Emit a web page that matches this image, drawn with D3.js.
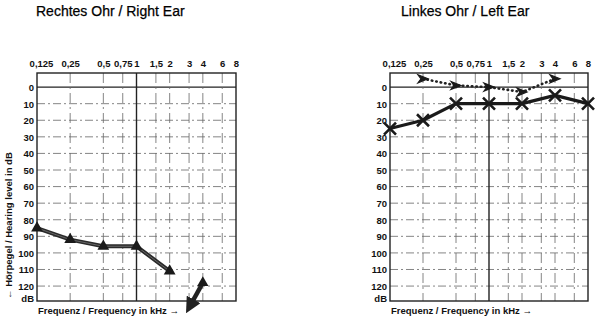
<!DOCTYPE html>
<html>
<head>
<meta charset="utf-8">
<script src="https://cdn.jsdelivr.net/npm/d3@7"></script>
<style>
  body { margin: 0; background: #fff; }
  text { font-family: "Liberation Sans Narrow", "Liberation Sans", Arial, sans-serif; fill: #111; }
  .title { font-family: "Liberation Sans", Arial, sans-serif; font-size: 14px; fill: #000; stroke: #000; stroke-width: 0.25; }
  .tick text { font-size: 9.5px; font-weight: bold; }
  .lbl { font-size: 9.5px; font-weight: bold; }
</style>
</head>
<body>
<script>
//data
var freqs = [0.125, 0.25, 0.5, 0.75, 1, 1.5, 2, 3, 4, 6, 8];
var levels = [0, 10, 20, 30, 40, 50, 60, 70, 80, 90, 100, 110, 120];
var rightAir = [[0.125, 85], [0.25, 92], [0.5, 96], [1, 96], [2, 111]];
var rightNoResp = [[4, 118], [3, 133]];
var leftAir = [[0.125, 25], [0.25, 20], [0.5, 10], [1, 10], [2, 10], [4, 5], [8, 10]];
var leftBone = [[0.25, -5], [0.5, -1], [1, 0], [2, 3], [4, -5]];

var W = 600, H = 328;
var top0 = 73, bottom0 = 301;

var svg = d3.select("body").append("svg")
    .attr("width", W)
    .attr("height", H);

var defs = svg.append("defs");
defs.append("marker")
    .attr("id", "arr")
    .attr("viewBox", "0 -5 10 10")
    .attr("refX", 6)
    .attr("refY", 0)
    .attr("markerWidth", 3.5)
    .attr("markerHeight", 3.5)
    .attr("markerUnits", "strokeWidth")
    .attr("orient", "auto")
    .append("path")
    .attr("d", "M0,-5L10,0L0,5Z")
    .attr("fill", "#222");

var y = d3.scaleLinear()
    .domain([-8.5, 129])
    .range([top0, bottom0]);

function fmt(d) { return String(d).replace(".", ","); }

function panel(x0, x1, title, titleX, showYTitle) {
    var x = d3.scaleLog().base(2)
        .domain([0.125, 8])
        .range([x0, x1]);
    var g = svg.append("g");

    g.append("text")
        .attr("class", "title")
        .attr("x", titleX)
        .attr("y", 16)
        .text(title);

    //grid
    g.append("g").selectAll("line")
        .data(levels)
        .enter().append("line")
        .attr("x1", x0).attr("x2", x1)
        .attr("y1", function (d) { return y(d); })
        .attr("y2", function (d) { return y(d); })
        .attr("stroke", function (d) { return d === 0 ? "#222" : "#666"; })
        .attr("stroke-width", function (d) { return d === 0 ? 1.4 : 0.8; })
        .attr("stroke-dasharray", function (d) { return d === 0 ? null : "8,3,2,3"; });

    g.append("g").selectAll("line")
        .data(freqs.slice(1, -1))
        .enter().append("line")
        .attr("x1", function (d) { return x(d); })
        .attr("x2", function (d) { return x(d); })
        .attr("y1", top0).attr("y2", bottom0)
        .attr("stroke", function (d) { return d === 1 ? "#222" : "#666"; })
        .attr("stroke-width", function (d) { return d === 1 ? 1.4 : 0.8; })
        .attr("stroke-dasharray", function (d) { return d === 1 ? null : "10,4,2,4"; });

    g.append("rect")
        .attr("x", x0).attr("y", top0)
        .attr("width", x1 - x0).attr("height", bottom0 - top0)
        .attr("fill", "none")
        .attr("stroke", "#222")
        .attr("stroke-width", 1.4);

    //axes
    var ax = g.append("g")
        .attr("transform", "translate(0," + (top0 - 6) + ")")
        .call(d3.axisTop(x).tickValues(freqs).tickFormat(fmt).tickSize(0).tickPadding(0));
    ax.select(".domain").remove();
    ax.selectAll(".tick text").filter(function (d) { return d === 0.125; }).attr("dx", 4);

    var ay = g.append("g")
        .attr("transform", "translate(" + (x0 - 3) + ",0)")
        .call(d3.axisLeft(y).tickValues(levels).tickSize(0).tickPadding(0));
    ay.select(".domain").remove();
    ay.selectAll(".tick text").attr("dy", "0.35em");

    g.append("text")
        .attr("class", "lbl")
        .attr("x", x0 - 3).attr("y", bottom0 + 1)
        .attr("text-anchor", "end")
        .text("dB");

    g.append("text")
        .attr("class", "lbl")
        .attr("x", x0 + 1).attr("y", bottom0 + 13)
        .text("Frequenz / Frequency in kHz \u2192");

    if (showYTitle) {
        g.append("text")
            .attr("class", "lbl")
            .attr("transform", "translate(12," + (bottom0 - 2) + ") rotate(-90)")
            .text("\u2190 H\u00f6rpegel / Hearing level in dB");
    }
    return { g: g, x: x };
}

var R = panel(37, 236, "Rechtes Ohr / Right Ear", 36, true);
var L = panel(390, 588, "Linkes Ohr / Left Ear", 401, false);

var line = function (sx) {
    return d3.line()
        .x(function (d) { return sx(d[0]); })
        .y(function (d) { return y(d[1]); });
};

//right ear
R.g.append("path")
    .datum(rightAir)
    .attr("d", line(R.x))
    .attr("fill", "none")
    .attr("stroke", "#2a2a2a")
    .attr("stroke-width", 4)
    .attr("stroke-linejoin", "round");
R.g.append("path")
    .datum(rightAir)
    .attr("d", line(R.x))
    .attr("fill", "none")
    .attr("stroke", "#666")
    .attr("stroke-width", 1);
R.g.append("g").selectAll("path")
    .data(rightAir)
    .enter().append("path")
    .attr("d", d3.symbol(d3.symbolTriangle, 60))
    .attr("transform", function (d) { return "translate(" + R.x(d[0]) + "," + y(d[1]) + ")"; })
    .attr("fill", "#1a1a1a");

R.g.append("path")
    .datum(rightNoResp)
    .attr("d", line(R.x))
    .attr("fill", "none")
    .attr("stroke", "#222")
    .attr("stroke-width", 4.5)
    .attr("marker-end", "url(#arr)");
R.g.append("path")
    .attr("d", d3.symbol(d3.symbolTriangle, 55))
    .attr("transform", "translate(" + R.x(rightNoResp[0][0]) + "," + y(rightNoResp[0][1]) + ")")
    .attr("fill", "#1a1a1a");

//left ear
L.g.append("path")
    .datum(leftBone)
    .attr("d", line(L.x))
    .attr("fill", "none")
    .attr("stroke", "#222")
    .attr("stroke-width", 2.6)
    .attr("stroke-linecap", "round")
    .attr("stroke-dasharray", "0.5,4");
L.g.append("g").selectAll("path")
    .data(leftBone)
    .enter().append("path")
    .attr("d", "M-5,-4L5,0L-5,4L-2,0Z")
    .attr("transform", function (d) { return "translate(" + L.x(d[0]) + "," + y(d[1]) + ")"; })
    .attr("fill", "#1a1a1a")
    .attr("stroke", "#1a1a1a")
    .attr("stroke-width", 1.2);

L.g.append("path")
    .datum(leftAir)
    .attr("d", line(L.x))
    .attr("fill", "none")
    .attr("stroke", "#1a1a1a")
    .attr("stroke-width", 3.2)
    .attr("stroke-linejoin", "round");
L.g.append("g").selectAll("path")
    .data(leftAir)
    .enter().append("path")
    .attr("d", "M-6,-6L6,6M-6,6L6,-6")
    .attr("transform", function (d) { return "translate(" + L.x(d[0]) + "," + y(d[1]) + ")"; })
    .attr("stroke", "#1a1a1a")
    .attr("stroke-width", 2.6);
</script>
</body>
</html>
